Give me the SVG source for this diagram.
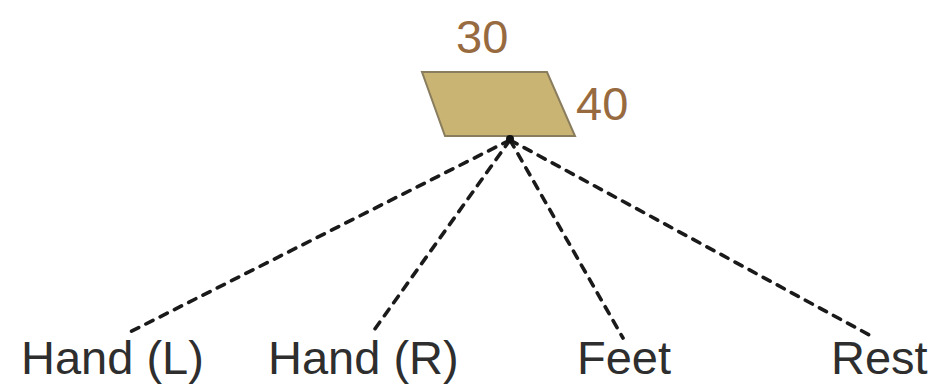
<svg xmlns="http://www.w3.org/2000/svg" width="933" height="384" viewBox="0 0 933 384">
  <style>
    .label { font-family: "Liberation Sans", Arial, sans-serif; font-size: 47px; fill: #2e2e2e; }
    .dim { font-family: "Liberation Sans", Arial, sans-serif; font-size: 47px; fill: #976a40; }
    .link { stroke: #1a1a1a; stroke-width: 3.6; stroke-dasharray: 8 8; fill: none; stroke-linecap: round; }
  </style>
  <rect width="933" height="384" fill="#ffffff"/>

  <g id="connectors">
    <line class="link" x1="510" y1="140" x2="128" y2="333"/>
    <line class="link" x1="510" y1="140" x2="372" y2="333"/>
    <line class="link" x1="510" y1="140" x2="623" y2="338"/>
    <line class="link" x1="510" y1="140" x2="875" y2="338"/>
  </g>

  <g id="plate">
    <polygon points="422,72 547,72 575,136 445,136" fill="#c9b474" stroke="#8a7d5e" stroke-width="2"/>
    <circle cx="510" cy="139" r="4" fill="#111111"/>
    <text class="dim" x="456" y="53">30</text>
    <text class="dim" x="576" y="120">40</text>
  </g>

  <g id="hand-l"><text class="label" x="21" y="374">Hand (L)</text></g>
  <g id="hand-r"><text class="label" x="268" y="374">Hand (R)</text></g>
  <g id="feet"><text class="label" x="577" y="374">Feet</text></g>
  <g id="rest"><text class="label" x="831" y="374">Rest</text></g>
</svg>
